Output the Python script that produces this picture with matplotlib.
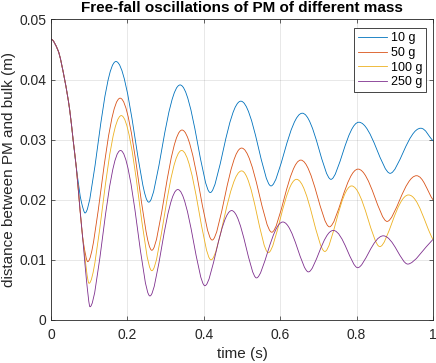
import numpy as np
import matplotlib.pyplot as plt
from matplotlib.path import Path
from matplotlib.patches import PathPatch
from matplotlib.lines import Line2D

plt.rcParams['font.family'] = ['Liberation Sans', 'DejaVu Sans']

# The data: knots (time in s, distance in m)
# common free-fall start
t_fall = [0.0, 0.018, 0.036, 0.049, 0.058, 0.066]
y_fall = [0.0467, 0.0449, 0.0399, 0.0349, 0.0299, 0.0255]

t_10 = [0.080, 0.089, 0.170, 0.256, 0.338, 0.417, 0.497, 0.576, 0.658,
        0.733, 0.806, 0.888, 0.968, 1.0]
y_10 = [0.0195, 0.0178, 0.0430, 0.0196, 0.0391, 0.0212, 0.0364, 0.0223,
        0.0344, 0.0234, 0.0329, 0.0244, 0.0319, 0.0298]

t_50 = [0.076, 0.085, 0.096, 0.181, 0.264, 0.343, 0.422, 0.499, 0.578,
        0.654, 0.729, 0.804, 0.880, 0.957, 1.0]
y_50 = [0.0183, 0.0128, 0.0097, 0.0369, 0.0116, 0.0316, 0.0133, 0.0286,
        0.0146, 0.0266, 0.0155, 0.0251, 0.0164, 0.0240, 0.0200]

t_100 = [0.076, 0.085, 0.0995, 0.184, 0.264, 0.342, 0.419, 0.499, 0.569,
         0.643, 0.717, 0.787, 0.861, 0.936, 1.0]
y_100 = [0.0183, 0.0125, 0.0061, 0.0340, 0.0082, 0.0282, 0.0100, 0.0248,
         0.0112, 0.0234, 0.0114, 0.0223, 0.0122, 0.0208, 0.0134]

t_250 = [0.076, 0.085, 0.093, 0.102, 0.182, 0.259, 0.332, 0.403, 0.473,
         0.538, 0.607, 0.674, 0.739, 0.803, 0.870, 0.934, 1.0]
y_250 = [0.0183, 0.0122, 0.0065, 0.0022, 0.0282, 0.0040, 0.0217, 0.0057,
         0.0182, 0.0070, 0.0163, 0.0080, 0.0149, 0.0087, 0.0140, 0.0093, 0.0134]

labels = ['10 g', '50 g', '100 g', '250 g']
colors = ['#0072BD', '#D95319', '#EDB120', '#7E2F8E']


def knot_slopes(t, y):
    h = np.diff(t)
    d = np.diff(y) / h
    m = np.zeros(len(y))
    for k in range(1, len(y) - 1):
        if d[k - 1] * d[k] > 0:
            w1 = 2 * h[k] + h[k - 1]
            w2 = h[k] + 2 * h[k - 1]
            m[k] = (w1 + w2) / (w1 / d[k - 1] + w2 / d[k])
    m[-1] = d[-1]
    return m


def arm(t, y, k):
    # bounces: troughs are sharper than the tops
    if 0 < k < len(y) - 1:
        if y[k] < y[k - 1] and y[k] < y[k + 1]:
            return 0.26
        if y[k] > y[k - 1] and y[k] > y[k + 1]:
            return 0.40
    return 1 / 3


def smooth_path(t, y):
    t = np.asarray(t)
    y = np.asarray(y)
    m = knot_slopes(t, y)
    verts = [(t[0], y[0])]
    codes = [Path.MOVETO]
    for k in range(len(t) - 1):
        h = t[k + 1] - t[k]
        a0 = arm(t, y, k) * h
        a1 = arm(t, y, k + 1) * h
        verts += [(t[k] + a0, y[k] + m[k] * a0),
                  (t[k + 1] - a1, y[k + 1] - m[k + 1] * a1),
                  (t[k + 1], y[k + 1])]
        codes += [Path.CURVE4] * 3
    return Path(verts, codes)


fig = plt.figure(figsize=(4.36, 3.63), dpi=100)
ax = fig.add_axes([0.117, 0.1185, 0.876, 0.828])

series = [(t_10, y_10), (t_50, y_50), (t_100, y_100), (t_250, y_250)]
handles = []
for (ts, ys), c, lab in zip(series, colors, labels):
    path = smooth_path(t_fall + ts, y_fall + ys)
    ax.add_patch(PathPatch(path, fill=False, edgecolor=c, lw=0.6))
    handles.append(Line2D([], [], color=c, lw=0.6))

#axes and labels
ax.set_xlim(0, 1)
ax.set_ylim(0, 0.05)
ax.set_xticks([0, 0.2, 0.4, 0.6, 0.8, 1])
ax.set_xticklabels(['0', '0.2', '0.4', '0.6', '0.8', '1'])
ax.set_yticks([0, 0.01, 0.02, 0.03, 0.04, 0.05])
ax.set_yticklabels(['0', '0.01', '0.02', '0.03', '0.04', '0.05'])
ax.grid(True, color='#262626', alpha=0.15, lw=0.5)
ax.set_axisbelow(True)
for s in ax.spines.values():
    s.set_color('#262626')
    s.set_linewidth(0.6)
ax.tick_params(direction='in', length=2.8, width=0.5, colors='#262626',
               labelsize=10, top=True, right=True)
ax.tick_params(axis='x', pad=5.5)
ax.tick_params(axis='y', pad=3.5)
ax.set_xlabel('time (s)', fontsize=11, color='#262626', labelpad=4)
ax.set_ylabel('distance between PM and bulk (m)', fontsize=11,
              color='#262626', labelpad=2)
ax.set_title('Free-fall oscillations of PM of different mass', fontsize=11,
             fontweight='bold', pad=5)

leg = ax.legend(handles, labels, loc='upper right',
                bbox_to_anchor=(0.9817, 0.970), borderaxespad=0,
                fontsize=9, fancybox=False, framealpha=1, edgecolor='#262626',
                handlelength=2.3, handletextpad=0.3, borderpad=0.3,
                labelspacing=0.22)
leg.get_frame().set_linewidth(0.6)

fig.savefig('out.png', dpi=100)
